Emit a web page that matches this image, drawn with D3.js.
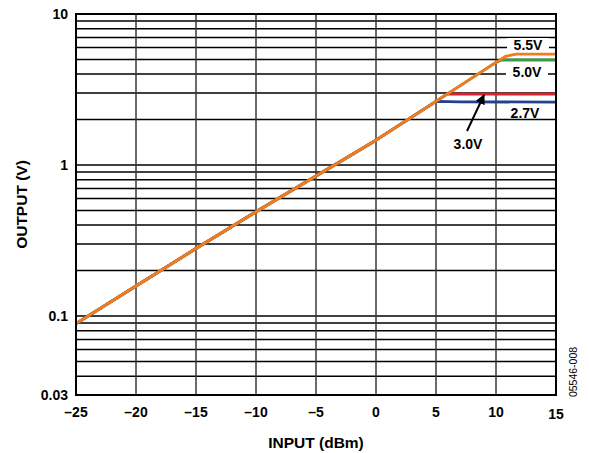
<!DOCTYPE html>
<html><head><meta charset="utf-8">
<script src="https://cdn.jsdelivr.net/npm/d3@7"></script>
<style>body{margin:0;background:#fff}svg{display:block}text{font-family:"Liberation Sans",Arial,sans-serif}</style>
</head><body><svg id="c" width="589" height="453"></svg>
<script>
// ---- data ----
const xTicks = [-25,-20,-15,-10,-5,0,5,10,15];
const yTickLabels = [{v:10,t:"10"},{v:1,t:"1"},{v:0.1,t:"0.1"},{v:0.03,t:"0.03"}];
const yGrid = [0.04,0.05,0.06,0.07,0.08,0.09,0.1,0.2,0.3,0.4,0.5,0.6,0.7,0.8,0.9,1,2,3,4,5,6,7,8,9,10];
const inputBase = [-25,-20,-15,-10,-5,0,5,10];
const outputBase = [0.089,0.158,0.28,0.49,0.845,1.46,2.64,4.78];
const out55 = {x:[...inputBase,10.8,11.7,15], y:[...outputBase,5.25,5.43,5.43]};
const out50 = {x:[...inputBase,10.5,15], y:[...outputBase,4.96,4.96]};
const out30 = {x:[...inputBase.slice(0,7),5.9,15], y:[...outputBase.slice(0,7),2.95,2.95]};
const out27 = {x:[...inputBase.slice(0,7),7,15], y:[...outputBase.slice(0,7),2.62,2.61]};
const seriesNames = ["2.7V","3.0V","5.0V","5.5V"];
const seriesColors = ["#23408e","#e41f2b","#3c9a48","#f47a20"];

const svg = d3.select("#c");
const L=76,R=556,T=14,B=395;
const x = d3.scaleLinear().domain([-25,15]).range([L,R]);
const y = d3.scaleLog().domain([0.03,10]).range([B,T]);

// grid
svg.append("g").selectAll("line").data(yGrid).join("line")
  .attr("x1",L).attr("x2",R).attr("y1",d=>y(d)).attr("y2",d=>y(d))
  .attr("stroke","#000").attr("stroke-width",1.5);
svg.append("g").selectAll("line").data(xTicks.slice(1,-1)).join("line")
  .attr("y1",T).attr("y2",B).attr("x1",d=>x(d)).attr("x2",d=>x(d))
  .attr("stroke","#3a3a3a").attr("stroke-width",1.5);

// label boxes (white backgrounds)
const labels = [
  {t:"5.5V", x:528, y:50},
  {t:"5.0V", x:527, y:77},
  {t:"2.7V", x:525, y:118},
  {t:"3.0V", x:468, y:149}
];
labels.forEach((l,i)=>{
  if(i<2) svg.append("rect").attr("x",l.x-21).attr("y",l.y-12).attr("width",42).attr("height",14).attr("fill","#fff");
});

// series
const line = d3.line().x(d=>x(d[0])).y(d=>y(d[1]));
[out27,out30,out50,out55].forEach((s,i)=>{
  const pts = s.x.map((v,k)=>[v,s.y[k]]);
  svg.append("path").attr("d",line(pts)).attr("fill","none")
    .attr("stroke",seriesColors[i]).attr("stroke-width",2.8).attr("stroke-linejoin","round");
});

// border
svg.append("rect").attr("x",L).attr("y",T).attr("width",R-L).attr("height",B-T)
  .attr("fill","none").attr("stroke","#000").attr("stroke-width",2);

// labels
labels.forEach(l=>{
  svg.append("text").attr("x",l.x).attr("y",l.y).attr("text-anchor","middle")
    .attr("font-size",14).attr("font-weight","bold").text(l.t);
});
// arrow
svg.append("defs").append("marker").attr("id","ah").attr("viewBox","0 0 10 10")
  .attr("refX",9).attr("refY",5).attr("markerWidth",5).attr("markerHeight",5).attr("orient","auto")
  .append("path").attr("d","M0,0L10,5L0,10z").attr("fill","#000");
svg.append("line").attr("x1",467).attr("y1",131).attr("x2",484).attr("y2",95)
  .attr("stroke","#000").attr("stroke-width",2).attr("marker-end","url(#ah)");

// tick labels
svg.append("g").selectAll("text").data(xTicks).join("text")
  .attr("x",d=>x(d)).attr("y",(d,i)=>i===xTicks.length-1?419:417).attr("text-anchor","middle")
  .attr("font-size",14).attr("font-weight","bold")
  .text(d=>d<0?"\u2013"+Math.abs(d):d);
svg.append("g").selectAll("text").data(yTickLabels).join("text")
  .attr("x",68).attr("y",d=>y(d.v)+5).attr("text-anchor","end")
  .attr("font-size",14).attr("font-weight","bold").text(d=>d.t);

// axis titles
svg.append("text").attr("x",(L+R)/2).attr("y",448).attr("text-anchor","middle")
  .attr("font-size",15.5).attr("font-weight","bold").text("INPUT (dBm)");
svg.append("text").attr("transform",`translate(27,${(T+B)/2}) rotate(-90)`).attr("text-anchor","middle")
  .attr("font-size",15.5).attr("font-weight","bold").text("OUTPUT (V)");
svg.append("text").attr("transform","translate(577,372) rotate(-90)").attr("text-anchor","middle")
  .attr("font-size",10.5).text("05546-008");
</script></body></html>
